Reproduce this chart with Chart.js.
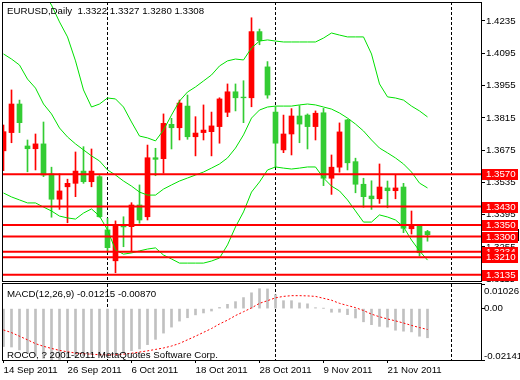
<!DOCTYPE html>
<html><head><meta charset="utf-8">
<script src="https://cdn.jsdelivr.net/npm/chart.js@4.4.1/dist/chart.umd.min.js"></script>
<style>
html,body{margin:0;padding:0;background:#fff;}
#wrap{position:relative;width:520px;height:380px;overflow:hidden;background:#fff;}
canvas{position:absolute;left:0;}
#c1{top:0;}
#c2{top:283px;}
</style></head><body>
<div id="wrap">
<canvas id="c1" width="520" height="283"></canvas>
<canvas id="c2" width="520" height="97"></canvas>
</div>
<script>
// ---------------- data ----------------
const symbol = 'EURUSD';
const period = 'Daily';
const dates = ['14 Sep 2011','15 Sep 2011','16 Sep 2011','19 Sep 2011','20 Sep 2011','21 Sep 2011','22 Sep 2011','23 Sep 2011','26 Sep 2011','27 Sep 2011','28 Sep 2011','29 Sep 2011','30 Sep 2011','3 Oct 2011','4 Oct 2011','5 Oct 2011','6 Oct 2011','7 Oct 2011','10 Oct 2011','11 Oct 2011','12 Oct 2011','13 Oct 2011','14 Oct 2011','17 Oct 2011','18 Oct 2011','19 Oct 2011','20 Oct 2011','21 Oct 2011','24 Oct 2011','25 Oct 2011','26 Oct 2011','27 Oct 2011','28 Oct 2011','31 Oct 2011','1 Nov 2011','2 Nov 2011','3 Nov 2011','4 Nov 2011','7 Nov 2011','8 Nov 2011','9 Nov 2011','10 Nov 2011','11 Nov 2011','14 Nov 2011','15 Nov 2011','16 Nov 2011','17 Nov 2011','18 Nov 2011','21 Nov 2011','22 Nov 2011','23 Nov 2011','24 Nov 2011','25 Nov 2011','28 Nov 2011'];
const open  = [1.3672,1.3751,1.3875,1.3693,1.3681,1.3702,1.3572,1.3462,1.3516,1.3531,1.3584,1.3538,1.3560,1.3329,1.3195,1.3350,1.3343,1.3437,1.3386,1.3642,1.3638,1.3787,1.3772,1.3866,1.3733,1.3751,1.3755,1.3777,1.3839,1.3928,1.3905,1.3902,1.4189,1.4036,1.3840,1.3676,1.3745,1.3823,1.3827,1.3777,1.3837,1.3553,1.3601,1.3806,1.3625,1.3527,1.3476,1.3464,1.3511,1.3499,1.3515,1.3334,1.3349,1.3322];
const high  = [1.3784,1.3936,1.3892,1.3719,1.3745,1.3797,1.3601,1.3572,1.3549,1.3667,1.3690,1.3680,1.3565,1.3379,1.3368,1.3386,1.3447,1.3524,1.3697,1.3683,1.3832,1.3813,1.3892,1.3914,1.3820,1.3871,1.3840,1.3902,1.3962,1.3962,1.3976,1.4249,1.4200,1.4059,1.3863,1.3827,1.3855,1.3868,1.3832,1.3845,1.3856,1.3654,1.3793,1.3809,1.3640,1.3553,1.3542,1.3615,1.3541,1.3567,1.3531,1.3411,1.3353,1.3327];
const low   = [1.3586,1.3707,1.3751,1.3581,1.3589,1.3560,1.3384,1.3418,1.3360,1.3473,1.3531,1.3516,1.3384,1.3234,1.3143,1.3256,1.3234,1.3358,1.3372,1.3564,1.3575,1.3680,1.3719,1.3722,1.3650,1.3719,1.3650,1.3705,1.3820,1.3845,1.3794,1.3863,1.4132,1.3900,1.3603,1.3664,1.3654,1.3707,1.3680,1.3719,1.3521,1.3483,1.3579,1.3589,1.3490,1.3427,1.3418,1.3444,1.3425,1.3464,1.3317,1.3311,1.3216,1.3280];
const close = [1.3755,1.3875,1.3794,1.3681,1.3702,1.3567,1.3462,1.3498,1.3531,1.3584,1.3538,1.3584,1.3386,1.3252,1.3350,1.3342,1.3437,1.3372,1.3642,1.3635,1.3791,1.3772,1.3879,1.3733,1.3749,1.3762,1.3780,1.3897,1.3928,1.3902,1.3902,1.4189,1.4150,1.3914,1.3705,1.3745,1.3823,1.3788,1.3777,1.3835,1.3553,1.3601,1.3754,1.3620,1.3527,1.3473,1.3464,1.3515,1.3499,1.3511,1.3336,1.3353,1.3230,1.3308];
const bbUpper  = [1.4699,1.4630,1.4560,1.4491,1.4426,1.4361,1.4304,1.4231,1.4166,1.4062,1.3936,1.3862,1.3875,1.3901,1.3897,1.3862,1.3797,1.3736,1.3728,1.3715,1.3762,1.3827,1.3888,1.3927,1.3949,1.3975,1.4001,1.4040,1.4062,1.4070,1.4066,1.4118,1.4148,1.4153,1.4148,1.4144,1.4144,1.4144,1.4144,1.4144,1.4161,1.4183,1.4174,1.4166,1.4166,1.4166,1.4092,1.3962,1.3906,1.3901,1.3892,1.3866,1.3845,1.3819];
const bbMiddle = [1.4092,1.4070,1.4044,1.3983,1.3944,1.3875,1.3832,1.3771,1.3732,1.3702,1.3676,1.3650,1.3628,1.3589,1.3567,1.3541,1.3519,1.3493,1.3480,1.3480,1.3506,1.3524,1.3541,1.3554,1.3567,1.3580,1.3597,1.3615,1.3641,1.3684,1.3741,1.3814,1.3849,1.3862,1.3866,1.3866,1.3866,1.3871,1.3875,1.3871,1.3862,1.3853,1.3836,1.3814,1.3788,1.3758,1.3719,1.3684,1.3663,1.3641,1.3615,1.3580,1.3532,1.3511];
const bbLower  = [1.3489,1.3472,1.3459,1.3446,1.3446,1.3428,1.3411,1.3389,1.3381,1.3376,1.3402,1.3420,1.3389,1.3329,1.3242,1.3224,1.3229,1.3238,1.3246,1.3251,1.3220,1.3203,1.3185,1.3185,1.3185,1.3185,1.3194,1.3207,1.3264,1.3342,1.3407,1.3493,1.3537,1.3589,1.3602,1.3597,1.3593,1.3597,1.3602,1.3602,1.3554,1.3519,1.3498,1.3459,1.3411,1.3363,1.3363,1.3394,1.3385,1.3372,1.3342,1.3285,1.3238,1.3198];
const macdMain   = [-0.0158,-0.0160,-0.0172,-0.0188,-0.0198,-0.0207,-0.0214,-0.0212,-0.0206,-0.0200,-0.0196,-0.0192,-0.0195,-0.0200,-0.0190,-0.0185,-0.0175,-0.0168,-0.0150,-0.0128,-0.0102,-0.0077,-0.0052,-0.0038,-0.0026,-0.0018,-0.0010,0.0005,0.0018,0.0029,0.0046,0.0066,0.0083,0.0082,0.0058,0.0033,0.0033,0.0024,0.0020,0.0004,0.0001,-0.0015,-0.0015,-0.0025,-0.0039,-0.0055,-0.0067,-0.0074,-0.0077,-0.0090,-0.0094,-0.0097,-0.0115,-0.01215];
const macdSignal = [-0.0089,-0.0100,-0.0115,-0.0130,-0.0146,-0.0157,-0.0166,-0.0174,-0.0180,-0.0185,-0.0188,-0.0190,-0.0192,-0.0193,-0.0192,-0.0190,-0.0186,-0.0181,-0.0176,-0.0170,-0.0164,-0.0156,-0.0145,-0.0130,-0.0115,-0.0099,-0.0083,-0.0064,-0.0048,-0.0029,-0.0013,0.0003,0.0022,0.0033,0.0045,0.0051,0.0054,0.0054,0.0053,0.0051,0.0043,0.0035,0.0022,0.0013,0.0004,-0.0008,-0.0023,-0.0034,-0.0043,-0.0051,-0.0060,-0.0070,-0.0079,-0.0087];
const levels = [1.3570,1.3430,1.3350,1.3300,1.3234,1.3210,1.3135];
const priceTicks = [1.4235,1.4095,1.3955,1.3815,1.3675,1.3535,1.3395,1.3255,1.3115];
const macdTicks = [0.01026,0,-0.02141];
const dateTickIdx = [0,8,16,24,32,40,48];
const separators = [13,34,56];
const copyright = 'ROCO, ? 2001-2011 MetaQuotes Software Corp.';

// ---------------- view settings ----------------
const X_MIN = -0.1875, X_MAX = 59.6875;
const PRICE_MIN = 1.31074, PRICE_MAX = 1.43174;
const RED = '#ff0000', GREEN = '#33cc33', BAND = '#00e000', HIST = '#c0c0c0';
const FONT = {family: "'Liberation Sans', Arial, sans-serif", size: 9.7};
const FONT_CSS = "9.7px 'Liberation Sans', Arial, sans-serif";
Chart.defaults.font.family = FONT.family;
Chart.defaults.font.size = FONT.size;

const idx = dates.map((d, i) => i);
const last = idx.length - 1;
const title = symbol + ',' + period + '  ' + [open[last], high[last], low[last], close[last]].map(v => v.toFixed(4)).join(' ');
const macdTitle = 'MACD(12,26,9) ' + macdMain[last].toFixed(5) + ' ' + macdSignal[last].toFixed(5);
const candleColor = c => close[c.dataIndex] >= open[c.dataIndex] ? RED : GREEN;

function drawSeparators(chart) {
  const {ctx, chartArea: ca, scales: {x}} = chart;
  ctx.save();
  ctx.strokeStyle = '#000'; ctx.lineWidth = 1; ctx.setLineDash([3, 2]);
  separators.forEach(s => {
    const px = Math.floor(x.getPixelForValue(s)) + 0.5;
    ctx.beginPath(); ctx.moveTo(px, ca.top); ctx.lineTo(px, ca.bottom); ctx.stroke();
  });
  ctx.restore();
}

const mainOverlay = {
  id: 'mainOverlay',
  beforeDatasetsDraw(chart) { drawSeparators(chart); },
  afterDraw(chart) {
    const {ctx, chartArea: ca, scales: {y}} = chart;
    ctx.save();
    ctx.strokeStyle = '#000'; ctx.lineWidth = 1;
    ctx.strokeRect(ca.left + 0.5, ca.top + 0.5, ca.right - ca.left, ca.bottom - ca.top);
    ctx.font = FONT_CSS; ctx.textBaseline = 'middle'; ctx.textAlign = 'left';
    ctx.fillStyle = '#000';
    ctx.fillText(title, 7, 11);
    // bid price box
    const yb = Math.round(y.getPixelForValue(close[last]));
    ctx.fillStyle = '#fff'; ctx.fillRect(482, yb - 5, 36, 11);
    ctx.strokeRect(481.5, yb - 5.5, 37, 11);
    // level labels
    levels.forEach(lv => {
      const yl = Math.round(y.getPixelForValue(lv));
      ctx.fillStyle = RED; ctx.fillRect(482, yl - 5, 36, 11);
      ctx.fillStyle = '#fff'; ctx.fillText(lv.toFixed(4), 486, yl + 0.5);
    });
    ctx.restore();
  }
};

const macdOverlay = {
  id: 'macdOverlay',
  beforeDatasetsDraw(chart) { drawSeparators(chart); },
  afterDraw(chart) {
    const {ctx, chartArea: ca, scales: {y}} = chart;
    ctx.save();
    ctx.strokeStyle = '#000'; ctx.lineWidth = 1;
    ctx.strokeRect(ca.left + 0.5, ca.top - 0.5, ca.right - ca.left, ca.bottom - ca.top + 1);
    ctx.font = FONT_CSS; ctx.textBaseline = 'middle'; ctx.textAlign = 'left'; ctx.fillStyle = '#000';
    ctx.fillText(macdTitle, 7, 11);
    ctx.fillText(copyright, 7, 72);
    macdTicks.forEach(v => {
      let yy = y.getPixelForValue(v);
      yy = Math.min(Math.max(yy, ca.top + 7), ca.bottom - 4);
      ctx.fillText(v === 0 ? '0.00' : v.toFixed(5), 484, yy);
    });
    ctx.restore();
  }
};

// ---------------- main price chart ----------------
const levelSets = levels.map(lv => ({
  type: 'line', data: [{x: X_MIN, y: lv}, {x: X_MAX, y: lv}],
  borderColor: RED, borderWidth: 2, pointRadius: 0, order: 0
}));
const bandSet = (arr) => ({
  type: 'line', data: idx.map(i => ({x: i, y: arr[i]})),
  borderColor: BAND, borderWidth: 1, pointRadius: 0, tension: 0, order: 1
});

new Chart(document.getElementById('c1'), {
  type: 'bar',
  data: {
    datasets: [
      ...levelSets,
      bandSet(bbUpper), bandSet(bbMiddle), bandSet(bbLower),
      { type: 'bar', data: idx.map(i => ({x: i, y: [open[i], close[i]]})), backgroundColor: candleColor,
        barThickness: 5, grouped: false, order: 2, clip: 0, borderWidth: 0 },
      { type: 'bar', data: idx.map(i => ({x: i, y: [low[i], high[i]]})), backgroundColor: candleColor,
        barThickness: 1, grouped: false, order: 3, clip: 0, borderWidth: 0 }
    ]
  },
  options: {
    responsive: false, animation: false, devicePixelRatio: 1, events: [],
    layout: {padding: {top: 2, left: 2, right: 0, bottom: 2}},
    plugins: {legend: {display: false}, tooltip: {enabled: false}},
    scales: {
      x: {type: 'linear', display: false, min: X_MIN, max: X_MAX, offset: false},
      y: {
        type: 'linear', position: 'right', min: PRICE_MIN, max: PRICE_MAX,
        afterBuildTicks: s => { s.ticks = priceTicks.map(v => ({value: v})); },
        afterFit: s => { s.width = 39; s.paddingTop = 0; s.paddingBottom = 0; },
        grid: {drawOnChartArea: false, drawTicks: true, tickLength: 4, color: '#000'},
        border: {display: false},
        ticks: {autoSkip: false, padding: 1, color: '#000', font: FONT, callback: v => Number(v).toFixed(4)}
      }
    }
  },
  plugins: [mainOverlay]
});

// ---------------- MACD chart ----------------
new Chart(document.getElementById('c2'), {
  type: 'bar',
  data: {
    datasets: [
      { type: 'line', data: idx.map(i => ({x: i, y: macdSignal[i]})), borderColor: RED, borderWidth: 1,
        borderDash: [2, 2], pointRadius: 0, tension: 0, order: 0 },
      { type: 'bar', data: idx.map(i => ({x: i, y: macdMain[i]})), backgroundColor: HIST,
        barThickness: 2, grouped: false, order: 1, clip: 0, borderWidth: 0 }
    ]
  },
  options: {
    responsive: false, animation: false, devicePixelRatio: 1, events: [],
    layout: {padding: {top: 1, left: 2, right: 0, bottom: 0}},
    plugins: {legend: {display: false}, tooltip: {enabled: false}},
    scales: {
      x: {
        type: 'linear', position: 'bottom', min: X_MIN, max: X_MAX, offset: false,
        afterBuildTicks: s => { s.ticks = dateTickIdx.map(v => ({value: v})); },
        afterFit: s => { s.height = 20; s.paddingLeft = 0; s.paddingRight = 0; },
        grid: {drawOnChartArea: false, drawTicks: true, tickLength: 3, color: '#000', offset: false},
        border: {display: false},
        ticks: {autoSkip: false, maxRotation: 0, minRotation: 0, align: 'start', padding: 2,
                color: '#000', font: FONT, callback: v => dates[v]}
      },
      y: {
        type: 'linear', position: 'right', min: Math.min(...macdTicks), max: Math.max(...macdTicks),
        afterBuildTicks: s => { s.ticks = macdTicks.map(v => ({value: v})); },
        afterFit: s => { s.width = 39; s.paddingTop = 0; s.paddingBottom = 0; },
        grid: {drawOnChartArea: false, drawTicks: true, tickLength: 4, color: '#000'},
        border: {display: false},
        ticks: {display: false}
      }
    }
  },
  plugins: [macdOverlay]
});
</script>
</body></html>
